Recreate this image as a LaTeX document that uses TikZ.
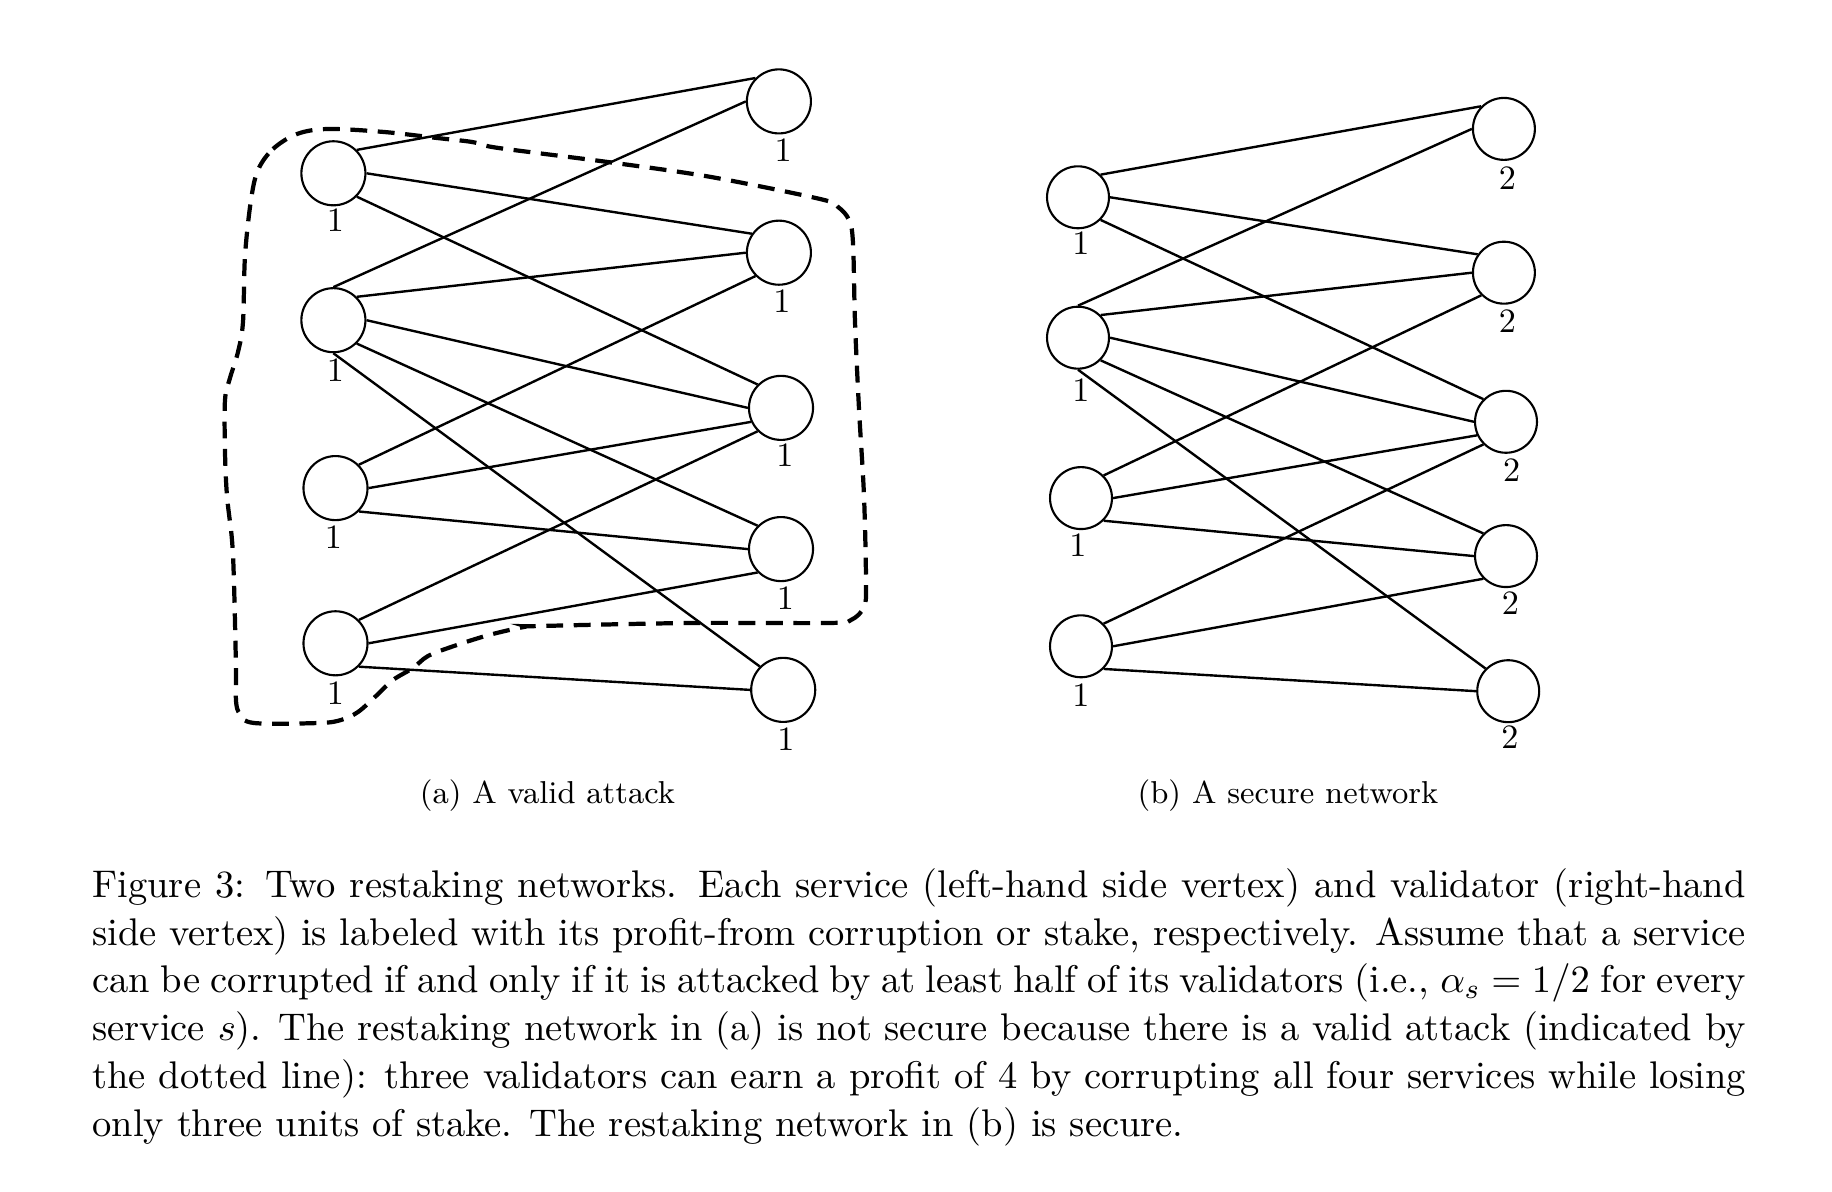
\documentclass[tikz,border=0pt]{standalone}
\begin{document}
\begin{tikzpicture}[x=0.28412pt, y=-0.28412pt,
  vtxA/.style={draw, circle, line width=0.6pt, minimum size=18.2pt, inner sep=0pt},
  vtxB/.style={vtxA, minimum size=17.6pt},
  link/.style={line width=0.68pt},
  lbl/.style={inner sep=0pt, font=\fontsize{9.7}{11}\selectfont},
  attack/.style={line width=1.2pt, dash pattern=on 4.8pt off 3pt},
  subcap/.style={anchor=base, inner sep=0pt, font=\fontsize{9}{11}\selectfont}]
\useasboundingbox (0,0) rectangle (1832,1192);

% ---------- panel (a)
\node[vtxA] (aL1) at (333.4,173.3) {};
\node[vtxA] (aL2) at (333.4,320.2) {};
\node[vtxA] (aL3) at (335.5,488.1) {};
\node[vtxA] (aL4) at (335.5,643.3) {};
\node[vtxA] (aR1) at (778.9,101.4) {};
\node[vtxA] (aR2) at (778.9,252.7) {};
\node[vtxA] (aR3) at (781.0,407.9) {};
\node[vtxA] (aR4) at (781.0,549.1) {};
\node[vtxA] (aR5) at (783.2,689.9) {};
\node[lbl] (aLl1) at (335.5,220.5) {1};
\node[lbl] (aLl2) at (335.5,370.5) {1};
\node[lbl] (aLl3) at (333.4,537.0) {1};
\node[lbl] (aLl4) at (335.5,693.0) {1};
\node[lbl] (aRl1) at (783.2,150.5) {1};
\node[lbl] (aRl2) at (782.0,301.5) {1};
\node[lbl] (aRl3) at (785.0,455.5) {1};
\node[lbl] (aRl4) at (785.4,598.0) {1};
\node[lbl] (aRl5) at (786.0,739.0) {1};

% ---------- panel (b)
\node[vtxB] (bL1) at (1078,197.3) {};
\node[vtxB] (bL2) at (1078,337.7) {};
\node[vtxB] (bL3) at (1081,498.1) {};
\node[vtxB] (bL4) at (1081,646.3) {};
\node[vtxB] (bR1) at (1503.9,128.9) {};
\node[vtxB] (bR2) at (1503.9,272.7) {};
\node[vtxB] (bR3) at (1506,421.8) {};
\node[vtxB] (bR4) at (1506,556.1) {};
\node[vtxB] (bR5) at (1508.2,691.2) {};
\node[lbl] (bLl1) at (1081,243.5) {1};
\node[lbl] (bLl2) at (1081,390.0) {1};
\node[lbl] (bLl3) at (1078,545.5) {1};
\node[lbl] (bLl4) at (1081,695.0) {1};
\node[lbl] (bRl1) at (1507.4,178.5) {2};
\node[lbl] (bRl2) at (1507.4,321.5) {2};
\node[lbl] (bRl3) at (1511.7,470.5) {2};
\node[lbl] (bRl4) at (1510.4,603.5) {2};
\node[lbl] (bRl5) at (1510.0,737.0) {2};

% ---------- edges (same bipartite graph in both panels)
\foreach \p in {a,b}{
  \foreach \i/\ai/\j/\aj in {1/45/1/135, 1/0/2/145, 1/-45/3/135,
      2/90/1/180, 2/45/2/180, 2/0/3/180, 2/-45/4/135, 2/-90/5/135,
      3/45/2/225, 3/0/3/205, 3/-45/4/180,
      4/45/3/225, 4/0/4/225, 4/-45/5/180}
    \draw[link] (\p L\i.\ai) -- (\p R\j.\aj);
}

% ---------- attack outline
\draw[attack] plot[smooth cycle, tension=0.55] coordinates {
 (258,170) (273,149) (297,134) (328,129) (384,132) (437,138) (472,142)
 (492,147) (537,153) (615,163) (711,177) (820,199) (838,207) (849,220)
 (853,243) (855,322) (859,409) (864,496) (866,583) (864,607) (851,620)
 (829,623) (690,623) (541,626) (524,627) (489,635) (454,646) (428,656)
 (413,668) (393,680) (376,696) (358,712) (341,720) (319,723) (254,723)
 (240,714) (236,701) (236,670) (234,583) (232,540) (227,496) (225,452)
 (225,400) (230,378) (238,352) (243,322) (245,256) (251,200)};

% ---------- captions
\node[subcap] (subA) at (547.5,804) {(a) A valid attack};
\node[subcap] (subB) at (1288,804) {(b) A secure network};

\node[anchor=north west, inner sep=0pt, text width=469.75pt, align=justify,
      font=\fontsize{10.95}{13.6}\selectfont] (cap) at (91.7,863)
 {\strut Figure 3: Two restaking networks. Each service (left-hand side vertex) and validator (right-hand side vertex) is labeled with its profit-from corruption or stake, respectively. Assume that a service can be corrupted if and only if it is attacked by at least half of its validators (i.e., $\alpha_s = 1/2$ for every service $s$). The restaking network in (a) is not secure because there is a valid attack (indicated by the dotted line): three validators can earn a profit of 4 by corrupting all four services while losing only three units of stake. The restaking network in (b) is secure.};
\end{tikzpicture}
\end{document}
